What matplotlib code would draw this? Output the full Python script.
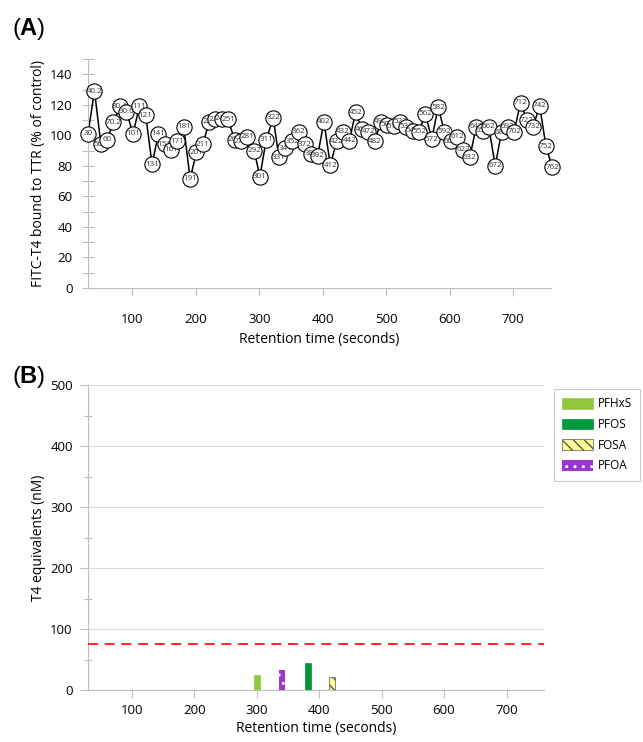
import matplotlib
matplotlib.use("Agg")
import matplotlib.pyplot as plt
from matplotlib.ticker import MultipleLocator

plt.rcParams['font.family'] = ['Open Sans', 'DejaVu Sans']
plt.rcParams['mathtext.fontset'] = 'custom'
plt.rcParams['mathtext.rm'] = 'Liberation Sans'
plt.rcParams['mathtext.bf'] = 'Liberation Sans:bold'
plt.rcParams['hatch.linewidth'] = 1.0

# Panel A: fraction retention times (s) and FITC-T4 binding (% of control)
tiempos = [30, 40.2, 50.4, 60, 70.2, 80.4, 90.6, 101, 111, 121, 131, 141, 151, 161,
           171, 181, 191, 201, 211, 221, 231, 241, 251, 261, 271, 281, 292, 301,
           311, 322, 331, 341, 352, 362, 372, 382, 392, 402, 412, 422, 432, 442,
           452, 462, 472, 482, 492, 502, 512, 522, 532, 542, 552, 562, 572, 582,
           592, 602, 612, 622, 632, 642, 652, 662, 672, 682, 692, 702, 712, 722,
           732, 742, 752, 762]
unido = [101, 129, 94, 97, 108.5, 119, 115.5, 101, 119, 113, 81, 101, 94, 90.5,
         96, 105.5, 71.5, 89, 94, 109, 110.5, 111, 110.5, 97, 96, 99, 90, 73,
         97, 111.5, 85.5, 91.5, 96, 102.5, 94, 88, 86.5, 109, 80.5, 96, 102.5, 96.5,
         115, 104, 102.5, 96, 109, 107, 106, 109, 105.5, 103, 102.5, 114, 97.5, 118.5,
         102.5, 96, 99, 90.5, 85.5, 105.5, 103, 105.5, 80, 102, 105.5, 102.5, 121.5, 110,
         105.5, 119.5, 93, 79]
etiquetas = [f"{t:g}" for t in tiempos]

# Panel B: T4 equivalents (nM) per compound
compuestos = ['PFHxS', 'PFOS', 'FOSA', 'PFOA']
tiempo_comp = [301, 382, 421, 341]
equivalentes = [24, 45, 22, 33]
umbral = 75

gris = '#BFBFBF'

fig = plt.figure(figsize=(6.43, 7.42), dpi=100)

# ---------------- (A) ----------------
ax1 = fig.add_axes([88/643, 1-288/742, 463/643, 229/742])
ax1.plot(tiempos, unido, color='black', lw=1.1, zorder=2)
for i, (t, v, lab) in enumerate(zip(tiempos, unido, etiquetas)):
    ax1.plot([t], [v], 'o', ms=11, mfc='white', mec='black', mew=0.8,
             zorder=3 + 2*i, clip_on=False)
    ax1.text(t, v, lab, fontsize=5.8, ha='center', va='center',
             color='#333333', zorder=4 + 2*i)

ax1.set_xlim(30, 760)
ax1.set_ylim(0, 150)
ax1.set_xticks([100, 200, 300, 400, 500, 600, 700])
ax1.yaxis.set_major_locator(MultipleLocator(20))
ax1.yaxis.set_minor_locator(MultipleLocator(10))
ax1.set_yticks([0, 20, 40, 60, 80, 100, 120, 140])
ax1.tick_params(axis='y', which='both', direction='inout', length=8, width=0.8,
                color=gris, labelsize=9.5, pad=7)
ax1.tick_params(axis='x', direction='out', length=6, width=0.8, color=gris,
                labelsize=9.5, pad=12)
for s in ['top', 'right']:
    ax1.spines[s].set_visible(False)
for s in ['left', 'bottom']:
    ax1.spines[s].set_color(gris)
    ax1.spines[s].set_linewidth(0.8)
ax1.set_xlabel('Retention time (seconds)', fontsize=10, labelpad=4)
ax1.set_ylabel('FITC-T4 bound to TTR (% of control)', fontsize=10, labelpad=3)

# ---------------- (B) ----------------
ax2 = fig.add_axes([88/643, 1-690/742, 456/643, 305/742])
estilos = {
    'PFHxS': dict(color='#92C83E', edgecolor='#92C83E', hatch=None, lw=0.5),
    'PFOS': dict(color='#00983A', edgecolor='#00983A', hatch=None, lw=0.5),
    'FOSA': dict(color='#FFFF99', edgecolor='#555555', hatch='\\\\\\', lw=0.5),
    'PFOA': dict(color='#9A35D0', edgecolor='white', hatch='..', lw=0),
}
for nombre, t, h in zip(compuestos, tiempo_comp, equivalentes):
    st = estilos[nombre]
    ax2.bar(t, h, width=9, color=st['color'], edgecolor=st['edgecolor'],
            hatch=st['hatch'], linewidth=st['lw'], label=nombre, zorder=3)
ax2.axhline(umbral, color='red', lw=1.2, dashes=(6, 4), zorder=4)

ax2.set_xlim(30, 760)
ax2.set_ylim(0, 500)
ax2.set_xticks([100, 200, 300, 400, 500, 600, 700])
ax2.yaxis.set_major_locator(MultipleLocator(100))
ax2.yaxis.set_minor_locator(MultipleLocator(50))
ax2.grid(axis='y', which='major', color='#D9D9D9', lw=0.8, zorder=0)
ax2.set_axisbelow(True)
ax2.tick_params(axis='y', which='major', direction='out', length=6, width=0.8,
                color=gris, labelsize=9.5, pad=5)
ax2.tick_params(axis='y', which='minor', direction='inout', length=6, width=0.8,
                color=gris)
ax2.tick_params(axis='x', direction='out', length=6, width=0.8, color=gris,
                labelsize=9.5, pad=4)
for s in ['top', 'right']:
    ax2.spines[s].set_visible(False)
for s in ['left', 'bottom']:
    ax2.spines[s].set_color(gris)
    ax2.spines[s].set_linewidth(0.8)
ax2.set_xlabel('Retention time (seconds)', fontsize=10, labelpad=3)
ax2.set_ylabel('T4 equivalents (nM)', fontsize=10, labelpad=3)

manejadores, nombres = ax2.get_legend_handles_labels()
leg = fig.legend(manejadores, nombres, loc='upper left',
                 bbox_to_anchor=(554/643, 1-389/742), fontsize=8.5,
                 frameon=True, fancybox=False, edgecolor=gris,
                 handlelength=2.6, handleheight=1.0, labelspacing=0.65,
                 borderpad=0.7, handletextpad=0.4, borderaxespad=0)
leg.get_frame().set_linewidth(0.8)

# Panel letters
fig.text(12/643, 1-29.5/742, r'($\mathbf{A}$)', fontsize=17,
         family='Liberation Sans', va='center', ha='left')
fig.text(12/643, 1-377.5/742, r'($\mathbf{B}$)', fontsize=17,
         family='Liberation Sans', va='center', ha='left')

fig.savefig('out.png', dpi=100)
